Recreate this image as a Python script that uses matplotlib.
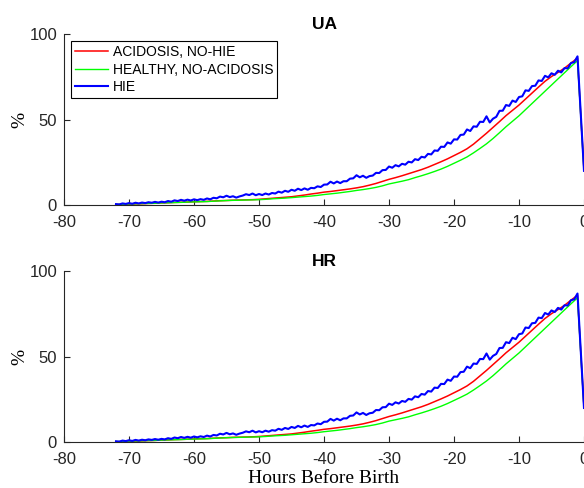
import numpy as np
import matplotlib
matplotlib.use("Agg")
import matplotlib.pyplot as plt

# Percentage curves (UA and HR panels look the same)
hours_smooth = np.append(np.arange(-72, 0), 0)
acidosis = [0.2, 0.3, 0.5, 0.6, 0.7, 0.9, 1.0, 1.2, 1.3, 1.5, 1.6, 1.7, 1.9, 2.0,
            2.1, 2.3, 2.5, 2.6, 2.8, 2.9, 3.0, 3.1, 3.3, 3.6, 3.9, 4.2, 4.5, 4.8,
            5.3, 5.8, 6.4, 6.9, 7.5, 7.9, 8.4, 8.9, 9.4, 10.0, 10.7, 11.6, 12.6,
            13.8, 15.0, 16.0, 17.1, 18.3, 19.5, 20.7, 22.1, 23.7, 25.3, 27.0,
            28.9, 30.8, 32.9, 35.6, 38.8, 42.0, 45.4, 48.8, 52.3, 55.4, 58.5,
            62.0, 65.5, 69.0, 72.4, 75.2, 77.6, 80.1, 83.1, 86.0, 20.0]
healthy = [0.3, 0.4, 0.6, 0.7, 0.8, 0.9, 1.0, 1.2, 1.3, 1.4, 1.5, 1.7, 1.8, 1.9,
           2.0, 2.2, 2.4, 2.6, 2.7, 2.8, 2.9, 3.0, 3.1, 3.3, 3.6, 3.8, 4.0, 4.3,
           4.6, 4.9, 5.2, 5.6, 6.1, 6.5, 6.9, 7.4, 7.9, 8.5, 9.0, 9.6, 10.3,
           11.2, 12.3, 13.1, 13.9, 14.8, 16.0, 17.1, 18.3, 19.6, 21.0, 22.6,
           24.4, 26.2, 28.1, 30.5, 33.1, 35.8, 38.9, 42.3, 45.8, 49.0, 52.2,
           55.8, 59.4, 63.0, 66.6, 70.2, 73.8, 77.4, 81.0, 84.5, 20.0]

hours_hie = np.append(np.arange(-72, -0.75, 0.5), 0)
hie = [0.5, 0.3, 0.9, 0.6, 1.1, 0.7, 1.3, 0.9, 1.4, 1.1, 1.6, 1.3, 1.8, 1.4,
       1.9, 1.6, 2.3, 1.9, 2.7, 2.3, 3.0, 2.5, 3.1, 2.6, 3.3, 2.8, 3.4, 3.0,
       3.8, 3.3, 4.2, 3.9, 4.9, 4.5, 5.4, 4.6, 5.1, 4.3, 5.0, 5.5, 6.3, 5.8,
       6.7, 5.7, 6.4, 5.8, 6.7, 6.1, 7.0, 6.7, 7.8, 7.2, 8.3, 7.7, 8.9, 8.3,
       9.5, 8.7, 9.7, 8.9, 10.0, 9.8, 10.9, 10.5, 11.9, 12.0, 13.6, 12.6,
       13.7, 12.8, 13.9, 13.9, 15.4, 15.6, 17.4, 16.2, 17.1, 15.9, 16.9, 17.2,
       18.8, 18.7, 20.4, 20.5, 22.5, 21.8, 23.3, 22.6, 24.1, 23.6, 25.3, 24.9,
       26.8, 26.3, 28.2, 27.8, 29.9, 29.6, 31.9, 31.7, 34.1, 34.0, 36.6, 35.9,
       38.4, 38.3, 41.0, 41.2, 44.2, 43.3, 46.0, 45.8, 48.7, 48.6, 51.9, 48.3,
       50.5, 51.6, 55.1, 55.2, 58.5, 58.0, 61.1, 60.3, 63.2, 63.6, 67.1, 66.8,
       69.6, 69.8, 72.9, 72.6, 75.6, 74.7, 77.1, 76.2, 78.6, 77.6, 80.1, 80.0,
       83.1, 83.6, 87.0, 20.0]

panels = ['UA', 'HR']
labels = ['ACIDOSIS, NO-HIE', 'HEALTHY, NO-ACIDOSIS', 'HIE']
xticks = [-80, -70, -60, -50, -40, -30, -20, -10, 0]
yticks = [0, 50, 100]

plt.rcParams['font.family'] = ['Liberation Sans', 'DejaVu Sans']
plt.rcParams['axes.unicode_minus'] = False
axis_col = '#262626'

fig = plt.figure(figsize=(5.84, 4.88), dpi=100)
ax_top = fig.add_axes([0.1096, 0.580, 0.8904, 0.350])
ax_bot = fig.add_axes([0.1096, 0.094, 0.8904, 0.350])

for ax, name in zip([ax_top, ax_bot], panels):
    ax.plot(hours_smooth, acidosis, color='#ff0000', lw=1.1, label=labels[0])
    ax.plot(hours_smooth, healthy, color='#00ff00', lw=1.0, label=labels[1])
    ax.plot(hours_hie, hie, color='#0000ff', lw=1.5, label=labels[2])
    ax.set_xlim(-80, 0)
    ax.set_ylim(0, 100)
    ax.set_xticks(xticks)
    ax.set_yticks(yticks)
    ax.tick_params(direction='in', length=4, width=0.8, colors=axis_col,
                   labelsize=12, pad=5)
    ax.tick_params(axis='x', pad=7)
    for side in ['top', 'right']:
        ax.spines[side].set_visible(False)
    for side in ['left', 'bottom']:
        ax.spines[side].set_color(axis_col)
        ax.spines[side].set_linewidth(0.8)
    ax.set_title(name, fontsize=12.5, fontweight='bold', pad=4)
    ax.set_ylabel('%', family='Liberation Serif', fontsize=14, labelpad=1)

leg = ax_top.legend(loc='upper left', fontsize=10, frameon=True, fancybox=False,
                    edgecolor='black', framealpha=1, handlelength=2.4,
                    handletextpad=0.3, labelspacing=0.25, borderpad=0.3,
                    borderaxespad=0.5)
leg.get_frame().set_linewidth(0.8)

ax_bot.set_xlabel('Hours Before Birth', family='Liberation Serif', fontsize=14,
                  labelpad=2)

fig.savefig('out.png', dpi=100)
